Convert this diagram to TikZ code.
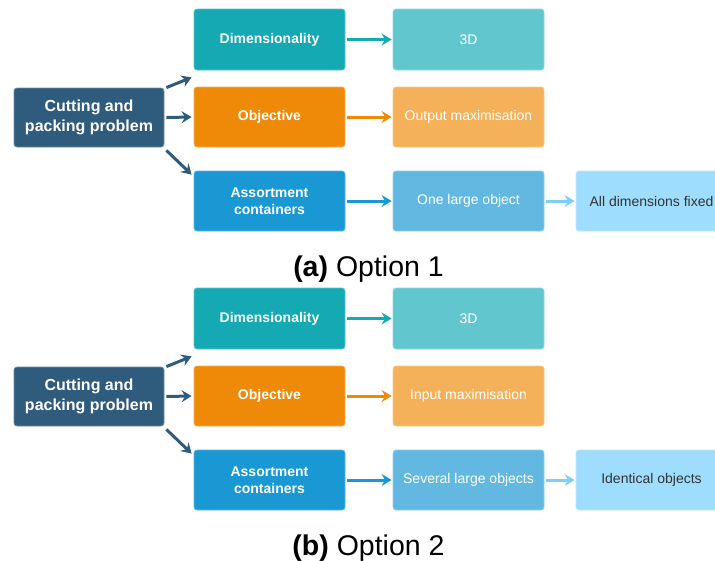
\documentclass[tikz,border=0pt]{standalone}
\usepackage{fontspec}
\setmainfont{Liberation Sans}
\usetikzlibrary{arrows.meta}
\definecolor{cpdark}{HTML}{2F5B7C}
\definecolor{cteal}{HTML}{14A9B3}
\definecolor{ctealL}{HTML}{62C6CE}
\definecolor{corange}{HTML}{EF8A08}
\definecolor{corangeL}{HTML}{F5B05A}
\definecolor{cblue}{HTML}{1998D4}
\definecolor{cblueM}{HTML}{62B8E1}
\definecolor{cblueL}{HTML}{9EDDFD}
\definecolor{carrowL}{HTML}{7DCFF5}
\tikzset{
  box/.style={rounded corners=3pt, minimum width=151pt, minimum height=60pt,
    inner sep=2pt, align=center, text=white, line width=0.8pt},
  boldbox/.style={box, font=\bfseries\fontsize{14}{17}\selectfont},
  bigbox/.style={box, font=\bfseries\fontsize{16}{20}\selectfont},
  plainbox/.style={box, font=\fontsize{14}{17}\selectfont},
  conn/.style={line width=3pt, -{Stealth[length=10pt,width=12pt,inset=3.5pt]}},
  captxt/.style={font=\fontsize{28.5}{32}\selectfont, anchor=base}
}
\begin{document}
\begin{tikzpicture}[x=1pt,y=-1pt]
\useasboundingbox (0,0) rectangle (715,560);
\foreach \p/\dy/\otext/\ltext/\ftext/\cl/\cn in {a/0/Output maximisation/One large object/All dimensions fixed/a/1, b/279/Input maximisation/Several large objects/Identical objects/b/2}{
\begin{scope}[shift={(0,\dy)}]
\node[bigbox, fill=cpdark, draw=cpdark!70!white, minimum width=150pt, minimum height=59pt] (\p-cut) at (89,117.5) {Cutting and\\packing problem};
\node[boldbox, fill=cteal, draw=cteal!70!white, minimum height=61pt] (\p-dim) at (269.5,39.5) {Dimensionality};
\node[boldbox, fill=corange, draw=corange!70!white] (\p-obj) at (269.5,117) {Objective};
\node[boldbox, fill=cblue, draw=cblue!70!white] (\p-ass) at (269.5,201) {Assortment\\containers};
\node[plainbox, fill=ctealL, draw=ctealL!70!white, minimum height=61pt] (\p-3d) at (468.5,39.5) {3D};
\node[plainbox, fill=corangeL, draw=corangeL!70!white] (\p-out) at (468.5,117) {\otext};
\node[plainbox, fill=cblueM, draw=cblueM!70!white] (\p-one) at (468.5,201) {\ltext};
\node[plainbox, fill=cblueL, draw=cblueL!70!white, text=black!80] (\p-all) at (651.5,201) {\ftext};
\draw[conn, cpdark] ([xshift=2pt]\p-cut.north east) -- ([xshift=-2pt,yshift=-7pt]\p-dim.south west);
\draw[conn, cpdark] ([xshift=2pt]\p-cut.east) -- ([xshift=-2pt]\p-obj.west);
\draw[conn, cpdark] ([xshift=2pt,yshift=-3pt]\p-cut.south east) -- ([xshift=-2pt,yshift=-4pt]\p-ass.north west);
\draw[conn, cteal] ([xshift=2pt]\p-dim.east) -- ([xshift=-1pt]\p-3d.west);
\draw[conn, corange] ([xshift=2pt]\p-obj.east) -- ([xshift=-1pt]\p-out.west);
\draw[conn, cblue] ([xshift=2pt]\p-ass.east) -- ([xshift=-1pt]\p-one.west);
\draw[conn, carrowL] ([xshift=2pt]\p-one.east) -- ([xshift=-1pt]\p-all.west);
\node[captxt] (\p-cap) at (368.5,276) {\textbf{(\cl)} Option \cn};
\end{scope}
}
\end{tikzpicture}
\end{document}
